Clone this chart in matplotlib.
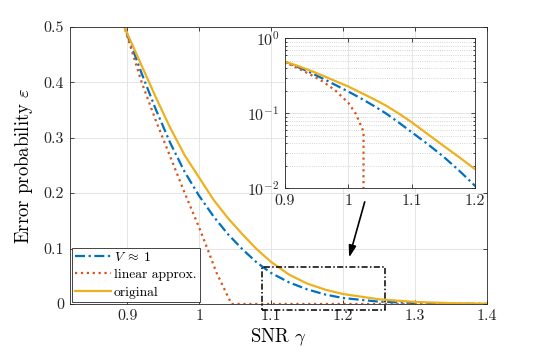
import numpy as np
import matplotlib
matplotlib.use("Agg")
import matplotlib.pyplot as plt
from matplotlib.patches import Rectangle

plt.rcParams['font.family'] = 'cmr10'
plt.rcParams['mathtext.fontset'] = 'cm'
plt.rcParams['axes.formatter.use_mathtext'] = True

# SNR grid and curves
snr = [0.89, 0.9, 0.92, 0.94, 0.96, 0.98, 1.0, 1.02, 1.04, 1.06, 1.08, 1.1,
       1.125, 1.15, 1.175, 1.2, 1.25, 1.3, 1.35, 1.4]
eps_v1 = [0.522, 0.486, 0.416, 0.350, 0.290, 0.238, 0.195, 0.158, 0.126, 0.099,
          0.075, 0.056, 0.039, 0.0265, 0.0172, 0.0108, 0.0042, 0.0016, 0.0006, 0.0002]
eps_orig = [0.518, 0.488, 0.430, 0.372, 0.317, 0.268, 0.228, 0.188, 0.155, 0.126,
            0.099, 0.076, 0.053, 0.037, 0.026, 0.018, 0.0085, 0.0037, 0.0015, 0.0006]

snr_lin = [0.89, 0.9, 0.92, 0.94, 0.96, 0.98, 1.0, 1.012, 1.024, 1.045,
           1.1, 1.2, 1.3, 1.4]
eps_lin = [0.525, 0.483, 0.400, 0.330, 0.265, 0.200, 0.138, 0.098, 0.057, 0.0,
           0.0, 0.0, 0.0, 0.0]

c_blue = '#0072BD'
c_red = '#D95319'
c_yel = '#EDB120'
ax_col = '#262626'


def style_axes(ax):
    ax.tick_params(direction='in', top=True, right=True, colors=ax_col,
                   labelsize=11.5, length=3, width=0.6, pad=4)
    for s in ax.spines.values():
        s.set_color(ax_col)
        s.set_linewidth(0.6)


def draw_curves(ax):
    ax.plot(snr, eps_v1, color=c_blue, ls='-.', dashes=(4.5, 1.6, 1, 1.6),
            lw=1.6, label=r'$V \;\approx\; 1$')
    ax.plot(snr_lin, eps_lin, color=c_red, ls=':', lw=1.6,
            label='linear approx.')
    ax.plot(snr, eps_orig, color=c_yel, ls='-', lw=1.6, label='original')


fig = plt.figure(figsize=(5.38, 3.55), dpi=100)
ax = fig.add_axes([0.1296, 0.1437, 0.775, 0.781])
draw_curves(ax)
ax.set_xlim(0.82, 1.4)
ax.set_ylim(0, 0.5)
ax.set_xticks([0.9, 1.0, 1.1, 1.2, 1.3, 1.4])
ax.set_xticklabels(['0.9', '1', '1.1', '1.2', '1.3', '1.4'])
ax.set_yticks([0, 0.1, 0.2, 0.3, 0.4, 0.5])
ax.set_yticklabels(['0', '0.1', '0.2', '0.3', '0.4', '0.5'])
ax.grid(True, color='#e0e0e0', lw=0.6)
ax.set_axisbelow(True)
style_axes(ax)
ax.set_xlabel(r'SNR $\gamma$', fontsize=13.5, labelpad=2)
ax.set_ylabel(r'Error probability $\varepsilon$', fontsize=13.5, labelpad=6)

leg = ax.legend(loc='lower left', fontsize=9.8, frameon=True, fancybox=False,
                borderpad=0.25, handlelength=2.6, handletextpad=0.25,
                labelspacing=0.35, borderaxespad=0.15, framealpha=1)
leg.get_frame().set_edgecolor(ax_col)
leg.get_frame().set_linewidth(0.6)

# zoom box and arrow
ax.add_patch(Rectangle((1.088, -0.011), 0.17, 0.077, fill=False, ec='black',
                       ls=(0, (4, 1.5, 1, 1.5)), lw=1.1, clip_on=False, zorder=5))
ax.annotate('', xy=(1.2076, 0.079), xytext=(1.2314, 0.189),
            arrowprops=dict(arrowstyle='-|>,head_length=0.7,head_width=0.22',
                            color='black', lw=1.2, mutation_scale=10))

# inset on log scale
axi = fig.add_axes([0.5297, 0.4696, 0.3532, 0.4224])
draw_curves(axi)
axi.set_yscale('log')
axi.set_xlim(0.9, 1.2)
axi.set_ylim(1e-2, 1)
axi.set_xticks([0.9, 1.0, 1.1, 1.2])
axi.set_xticklabels(['0.9', '1', '1.1', '1.2'])
axi.set_yticks([1e-2, 1e-1, 1])
axi.set_yticklabels([r'$10^{-2}$', r'$10^{-1}$', r'$10^{0}$'])
axi.grid(True, which='major', color='#e0e0e0', lw=0.6)
axi.grid(True, which='minor', axis='y', color='#c8c8c8', ls=':', lw=0.6)
axi.tick_params(which='minor', direction='in', right=True, length=1.5,
                colors=ax_col)
style_axes(axi)

fig.savefig('out.png', dpi=100)
